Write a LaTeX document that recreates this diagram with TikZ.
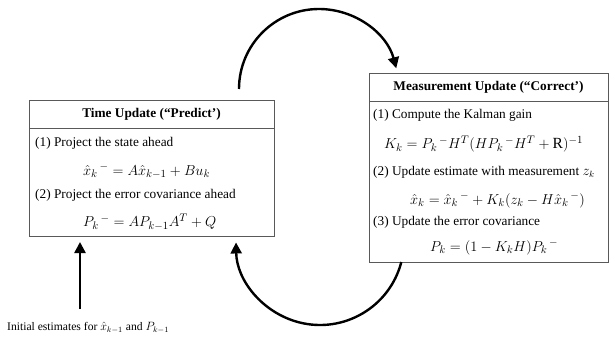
\documentclass[tikz,border=0pt]{standalone}
\usepackage{fontspec}
\setmainfont{Liberation Serif}
\usetikzlibrary{arrows.meta}
\begin{document}
\begin{tikzpicture}[x=1pt,y=1pt,
  boxline/.style={draw=black!65, line width=0.9pt},
  hdr/.style={font=\fontsize{13.3}{15}\selectfont\bfseries, inner sep=0pt},
  txt/.style={font=\fontsize{13.3}{15}\selectfont, anchor=west, inner sep=0pt},
  eqn/.style={font=\fontsize{15.5}{17}\selectfont, anchor=west, inner sep=0pt},
  flow/.style={line width=2.4pt, -{Triangle[length=11pt,width=11pt]}}]
\useasboundingbox (0,0) rectangle (610,338);
% left box
\coordinate (lbl) at (29,102);
\coordinate (ltr) at (274,238);
\draw[boxline] (lbl) rectangle (ltr);
\draw[boxline] (29,210) -- (274,210);
\node[hdr] (th) at (151.5,224) {Time Update (“Predict’)};
\node[txt] (t1) at (35,195) {(1) Project the state ahead};
\node[eqn] (e1) at (83,167) {$\hat{x}_k{}^{\,-} = A\hat{x}_{k-1} + Bu_k$};
\node[txt] (t2) at (35,143) {(2) Project the error covariance ahead};
\node[eqn] (e2) at (83,116) {$P_k{}^{\,-} = AP_{k-1}A^T + Q$};
% right box
\coordinate (rbl) at (369,76);
\coordinate (rtr) at (608,265);
\draw[boxline] (rbl) rectangle (rtr);
\draw[boxline] (369,237) -- (608,237);
\node[hdr] (mh) at (488.5,251) {Measurement Update (“Correct’)};
\node[txt] (m1) at (373,223) {(1) Compute the Kalman gain};
\node[eqn] (q1) at (384,194) {$K_k = P_k{}^{\,-}H^T(HP_k{}^{\,-}H^T + \mathrm{R})^{-1}$};
\node[txt] (m2) at (373,166) {(2) Update estimate with measurement $z_k$};
\node[eqn] (q2) at (410,138) {$\hat{x}_k = \hat{x}_k{}^{\,-} + K_k(z_k - H\hat{x}_k{}^{\,-})$};
\node[txt] (m3) at (373,116) {(3) Update the error covariance};
\node[eqn] (q3) at (430,91) {$P_k = (1 - K_kH)P_k{}^{\,-}$};
% arcs
\coordinate (a1) at (239,249);
\draw[flow] (a1) arc[start angle=180, end angle=15, radius=80];
\coordinate (a2) at ({320+84*cos(-14.5)},{97+84*sin(-14.5)});
\draw[flow] (a2) arc[start angle=-14.5, end angle=-179, radius=84];
% initial
\node[font=\fontsize{11.6}{14}\selectfont, anchor=west, inner sep=0pt] (init) at (7,10) {Initial estimates for $\hat{x}_{k-1}$ and $P_{k-1}$};
\coordinate (i0) at (80,29);
\coordinate (i1) at (80,96);
\draw[flow] (i0) -- (i1);
\end{tikzpicture}
\end{document}
